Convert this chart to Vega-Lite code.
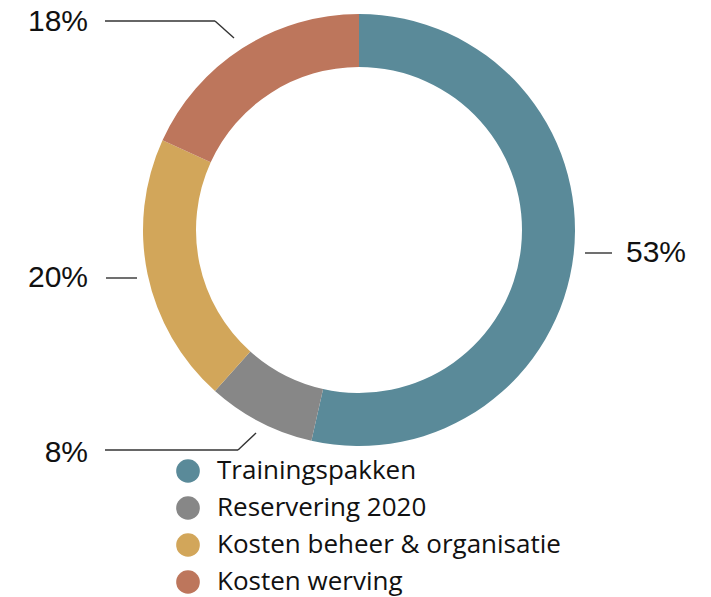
{
  "$schema": "https://vega.github.io/schema/vega-lite/v6.json",
  "width": 711,
  "height": 597,
  "autosize": {"type": "none"},
  "padding": 0,
  "background": "white",
  "config": {"view": {"stroke": null}},
  "datasets": {
    "slices": [
      {"categorie": "Trainingspakken", "aandeel": 53, "volgorde": 1},
      {"categorie": "Reservering 2020", "aandeel": 8, "volgorde": 2},
      {"categorie": "Kosten beheer & organisatie", "aandeel": 20, "volgorde": 3},
      {"categorie": "Kosten werving", "aandeel": 18, "volgorde": 4}
    ],
    "leaders": [
      {"x": 105, "y": 21, "x2": 215, "y2": 21},
      {"x": 215, "y": 21, "x2": 234, "y2": 38},
      {"x": 585, "y": 253, "x2": 612, "y2": 253},
      {"x": 106, "y": 278, "x2": 137, "y2": 278},
      {"x": 105, "y": 450, "x2": 238, "y2": 450},
      {"x": 238, "y": 450, "x2": 256, "y2": 433}
    ],
    "labels": [
      {"tekst": "18%", "x": 88, "y": 22, "kant": "rechts"},
      {"tekst": "53%", "x": 626, "y": 253, "kant": "links"},
      {"tekst": "20%", "x": 88, "y": 278, "kant": "rechts"},
      {"tekst": "8%", "x": 88, "y": 453, "kant": "rechts"}
    ]
  },
  "layer": [
    {
      "data": {"name": "slices"},
      "mark": {"type": "arc", "outerRadius": 216, "innerRadius": 163},
      "encoding": {
        "x": {"datum": 359, "type": "quantitative", "scale": {"domain": [0, 711], "nice": false, "zero": false}, "axis": null},
        "y": {"datum": 230, "type": "quantitative", "scale": {"domain": [0, 597], "nice": false, "zero": false, "reverse": true}, "axis": null},
        "theta": {"field": "aandeel", "type": "quantitative", "stack": true},
        "order": {"field": "volgorde", "type": "quantitative"},
        "color": {
          "field": "categorie",
          "type": "nominal",
          "scale": {
            "domain": ["Trainingspakken", "Reservering 2020", "Kosten beheer & organisatie", "Kosten werving"],
            "range": ["#5a8a99", "#878787", "#d2a65a", "#bd765c"]
          },
          "legend": {
            "title": null,
            "orient": "none",
            "legendX": 175,
            "legendY": 458,
            "symbolType": "circle",
            "symbolSize": 560,
            "symbolStrokeWidth": 0,
            "symbolOpacity": 1,
            "labelFont": "Open Sans",
            "labelFontSize": 26,
            "labelColor": "#111111",
            "labelOffset": 16,
            "rowPadding": 11,
            "labelLimit": 450
          }
        }
      }
    },
    {
      "data": {"name": "leaders"},
      "mark": {"type": "rule", "color": "#333333", "strokeWidth": 1.4},
      "encoding": {
        "x": {"field": "x", "type": "quantitative"},
        "y": {"field": "y", "type": "quantitative"},
        "x2": {"field": "x2"},
        "y2": {"field": "y2"}
      }
    },
    {
      "data": {"name": "labels"},
      "transform": [{"filter": "datum.kant == 'rechts'"}],
      "mark": {"type": "text", "align": "right", "baseline": "middle", "font": "Liberation Sans", "fontSize": 30, "color": "#111111"},
      "encoding": {
        "x": {"field": "x", "type": "quantitative"},
        "y": {"field": "y", "type": "quantitative"},
        "text": {"field": "tekst"}
      }
    },
    {
      "data": {"name": "labels"},
      "transform": [{"filter": "datum.kant == 'links'"}],
      "mark": {"type": "text", "align": "left", "baseline": "middle", "font": "Liberation Sans", "fontSize": 30, "color": "#111111"},
      "encoding": {
        "x": {"field": "x", "type": "quantitative"},
        "y": {"field": "y", "type": "quantitative"},
        "text": {"field": "tekst"}
      }
    }
  ]
}
